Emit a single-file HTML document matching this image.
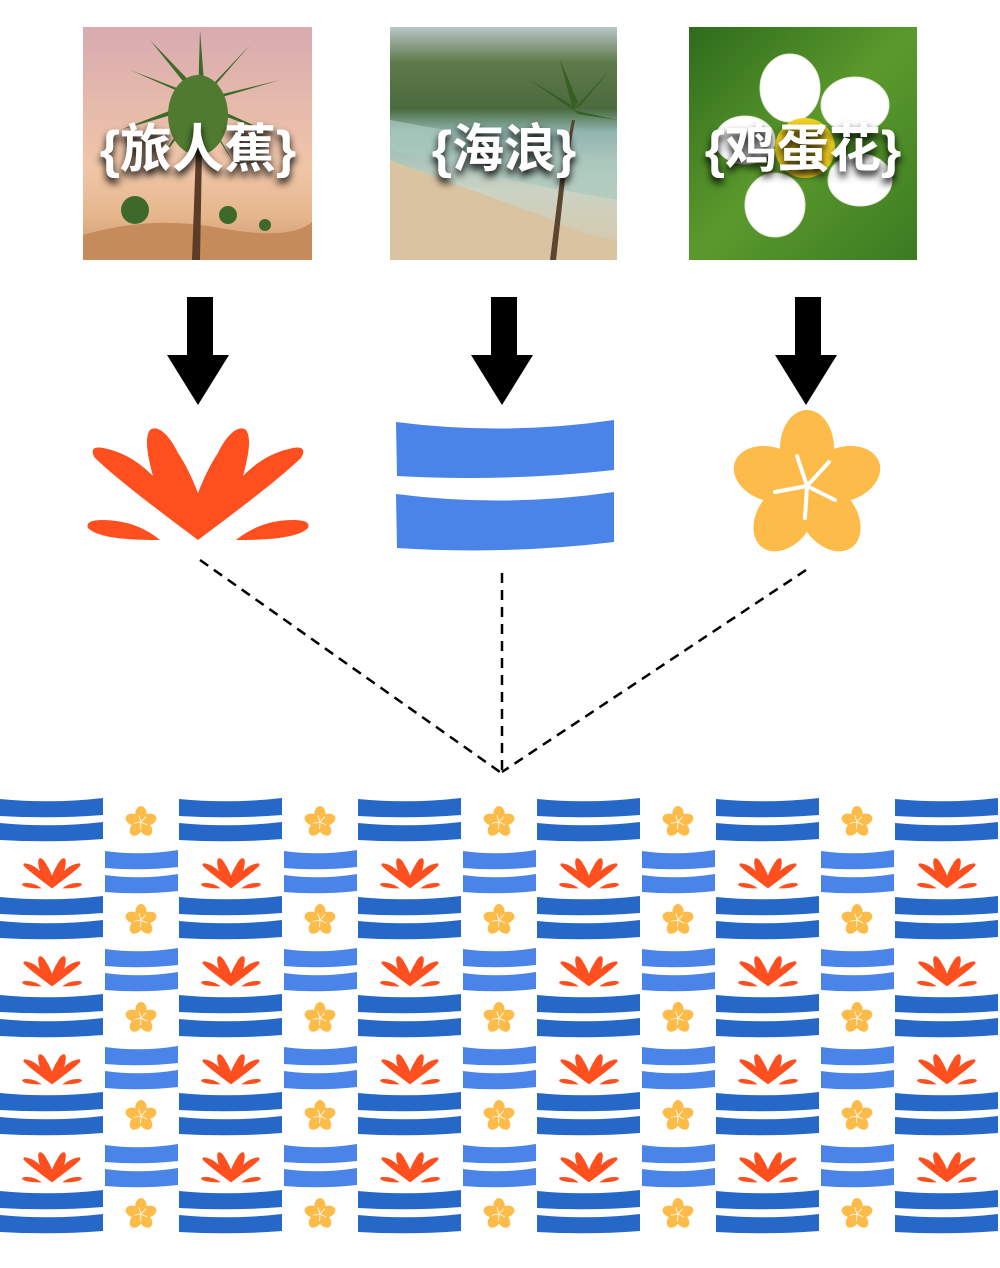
<!DOCTYPE html>
<html><head><meta charset="utf-8"><style>
html,body{margin:0;padding:0;background:#fff;width:1000px;height:1268px;overflow:hidden}
text{font-family:"Liberation Sans","Noto Sans CJK SC",sans-serif}
</style></head><body>
<svg width="1000" height="1268" viewBox="0 0 1000 1268" xmlns="http://www.w3.org/2000/svg">
<defs>
<linearGradient id="g1" x1="0" y1="0" x2="0" y2="1"><stop offset="0" stop-color="#d9aab0"/><stop offset="0.6" stop-color="#f0c6a8"/><stop offset="0.8" stop-color="#e7b88f"/><stop offset="1" stop-color="#c89468"/></linearGradient>
<linearGradient id="g2" x1="0" y1="0" x2="0" y2="1"><stop offset="0" stop-color="#b9c6c8"/><stop offset="0.15" stop-color="#5f7a4a"/><stop offset="0.35" stop-color="#4b6a3e"/><stop offset="0.45" stop-color="#8fb6b0"/><stop offset="0.7" stop-color="#cbd3c4"/><stop offset="1" stop-color="#d9c6a8"/></linearGradient>
<linearGradient id="g3" x1="0" y1="0" x2="1" y2="1"><stop offset="0" stop-color="#2f6b1c"/><stop offset="0.5" stop-color="#5a9a2c"/><stop offset="1" stop-color="#3c7a22"/></linearGradient>
<filter id="sh" x="-20%" y="-20%" width="140%" height="150%"><feDropShadow dx="0" dy="5" stdDeviation="4" flood-color="#000" flood-opacity="1"/></filter>
<symbol id="leaf" viewBox="-111 0 222 114" overflow="visible">
<path fill="#ff4f1e" d="M0,112 C-40,82 -80,52 -103,30 C-108,22 -105,18 -95,20 C-70,25 -55,38 -45,48 C-50,30 -54,10 -48,2 C-40,-4 -28,8 -20,25 C-10,40 -4,55 0,65 C4,55 10,40 20,25 C28,8 40,-4 48,2 C54,10 50,30 45,48 C55,38 70,25 95,20 C105,18 108,22 103,30 C80,52 40,82 0,112 Z"/>
<path fill="#ff4f1e" d="M-40,112 C-70,112 -100,110 -110,100 C-112,95 -108,92 -95,92 C-75,92 -55,98 -38,112 Z"/>
<path fill="#ff4f1e" d="M40,112 C70,112 100,110 110,100 C112,95 108,92 95,92 C75,92 55,98 38,112 Z"/>
</symbol>
<symbol id="flower" viewBox="-76 -76 152 152" overflow="visible">
<g fill="#fdbc4a">
<ellipse cx="0" cy="-38" rx="27" ry="38"/>
<ellipse cx="0" cy="-38" rx="27" ry="38" transform="rotate(72)"/>
<ellipse cx="0" cy="-38" rx="27" ry="38" transform="rotate(144)"/>
<ellipse cx="0" cy="-38" rx="27" ry="38" transform="rotate(216)"/>
<ellipse cx="0" cy="-38" rx="27" ry="38" transform="rotate(288)"/>
</g>
<g stroke="#fff" stroke-width="4" fill="none" stroke-linecap="round">
<path d="M0,0 L-10,-30 M0,0 L22,-24 M0,0 L28,14 M0,0 L-2,32 M0,0 L-32,6"/>
</g>
</symbol>
<pattern id="pat" x="0" y="798" width="179" height="98" patternUnits="userSpaceOnUse">
<path fill="#2668c8" d="M0,1 Q52,6 103,0 L103,17 Q52,21 0,18 Z"/>
<path fill="#2668c8" d="M0,25 Q52,30 103,24 L103,41 Q52,45 0,42 Z"/>
<use href="#leaf" x="22" y="60" width="60" height="31"/>
<use href="#flower" x="125" y="8" width="32" height="32"/>
<path fill="#4a84e8" d="M105,53 Q141,58 178,52 L178,69 Q141,73 105,70 Z"/>
<path fill="#4a84e8" d="M105,77 Q141,82 178,76 L178,93 Q141,97 105,94 Z"/>
</pattern>
<clipPath id="c1"><rect x="83" y="27" width="229" height="233"/></clipPath>
<clipPath id="c2"><rect x="390" y="27" width="227" height="233"/></clipPath>
<clipPath id="c3"><rect x="689" y="27" width="228" height="233"/></clipPath>
</defs>

<g clip-path="url(#c1)">
<rect x="83" y="27" width="229" height="233" fill="url(#g1)"/>
<path d="M83,235 Q150,215 220,228 T312,222 L312,260 L83,260Z" fill="#c68b5a"/>
<path d="M192,260 L196,150 L202,150 L200,260Z" fill="#5a3c28"/>
<g fill="#3d6a2a">
<path d="M198,100 L130,70 L195,95Z M198,100 L150,40 L200,92Z M198,100 L200,30 L205,95Z M198,100 L250,45 L205,97Z M198,100 L280,80 L205,102Z M198,100 L120,130 L195,108Z M198,100 L275,135 L203,108Z M198,100 L160,160 L198,110Z M198,100 L235,165 L200,110Z"/>
<ellipse cx="198" cy="115" rx="30" ry="40" fill="#4f7a30"/>
<circle cx="135" cy="210" r="14"/><circle cx="228" cy="215" r="9"/><circle cx="265" cy="225" r="6"/>
</g>
</g>
<g clip-path="url(#c2)">
<rect x="390" y="27" width="227" height="233" fill="url(#g2)"/>
<path d="M390,160 Q470,190 540,215 Q580,235 617,240 L617,260 L390,260Z" fill="#d9c3a0"/>
<path d="M390,120 Q500,140 617,160 L617,200 Q500,180 390,150Z" fill="#a9c9bd" opacity="0.7"/>
<path d="M556,260 L566,170 L575,120 L572,120 L560,180 L550,260Z" fill="#5a4630"/>
<g fill="#355f25"><path d="M573,110 L530,80 L570,104Z M573,110 L560,60 L578,102Z M573,110 L610,70 L580,106Z M573,110 L617,120 L578,114Z"/></g>
</g>
<g clip-path="url(#c3)">
<rect x="689" y="27" width="228" height="233" fill="url(#g3)"/>
<g fill="#fff" stroke="#e8e8d8" stroke-width="1">
<ellipse cx="790" cy="88" rx="30" ry="34"/>
<ellipse cx="855" cy="105" rx="34" ry="28"/>
<ellipse cx="860" cy="180" rx="32" ry="26"/>
<ellipse cx="775" cy="205" rx="30" ry="32"/>
<ellipse cx="745" cy="140" rx="30" ry="24"/>
</g>
<circle cx="805" cy="148" r="30" fill="#f2d020"/>
</g>
<g font-size="52" font-weight="bold" fill="#fff" text-anchor="middle" filter="url(#sh)">
<text x="198" y="167">{旅人蕉}</text>
<text x="504" y="167">{海浪}</text>
<text x="803" y="167">{鸡蛋花}</text>
</g>

<g fill="#000">
<path d="M187,297 H213 V355 H229 L198,405 L167,355 H187Z"/>
<path d="M491,297 H517 V355 H533 L502,405 L471,355 H491Z"/>
<path d="M795,297 H821 V355 H837 L806,405 L775,355 H795Z"/>
</g>

<use href="#leaf" x="87" y="428" width="222" height="114"/>
<path fill="#4a84e8" d="M396,422 Q505,436 614,420 L614,470 Q505,482 397,476 Z"/>
<path fill="#4a84e8" d="M396,494 Q505,508 614,492 L614,542 Q505,555 397,548 Z"/>
<use href="#flower" x="731" y="410" width="152" height="152"/>

<g stroke="#000" stroke-width="2.5" stroke-dasharray="10,7" fill="none">
<path d="M200,560 L500,772"/>
<path d="M502,573 L502,772"/>
<path d="M806,570 L502,772"/>
</g>

<rect x="0" y="798" width="1000" height="439" fill="url(#pat)"/>
</svg>
</body></html>
